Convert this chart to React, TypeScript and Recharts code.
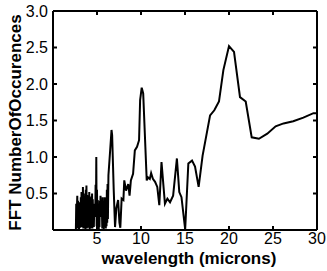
import { LineChart, Line, XAxis, YAxis } from 'recharts';

// wavelength in microns, dense noisy band first, then the smoother tail
const wavelengths = [
  2.6, 2.64, 2.68, 2.72, 2.76, 2.8, 2.84, 2.88, 2.92, 2.96,
  3.0, 3.04, 3.08, 3.12, 3.16, 3.2, 3.24, 3.28, 3.32, 3.36,
  3.4, 3.44, 3.48, 3.52, 3.56, 3.6, 3.64, 3.68, 3.72, 3.76,
  3.8, 3.84, 3.88, 3.92, 3.96, 4.0, 4.04, 4.08, 4.12, 4.16,
  4.2, 4.24, 4.28, 4.32, 4.36, 4.4, 4.44, 4.48, 4.52, 4.56,
  4.6, 4.64, 4.68, 4.72, 4.76, 4.8, 4.84, 4.88, 4.92, 4.96,
  5.0, 5.04, 5.08, 5.12, 5.16, 5.2, 5.24, 5.28, 5.32, 5.36,
  5.4, 5.44, 5.48, 5.52, 5.56, 5.6, 5.64, 5.68, 5.72, 5.76,
  5.8, 5.84, 5.88, 5.92, 5.96, 6.0, 6.04, 6.08, 6.12, 6.16,
  6.2, 6.24, 6.3, 6.5, 6.65, 6.72, 6.9, 7.05, 7.2, 7.4,
  7.55, 7.65, 7.8, 8.0, 8.1, 8.3, 8.55, 8.7, 8.85, 9.1,
  9.3, 9.55, 9.78, 9.9, 10.08, 10.25, 10.65, 10.8, 11.0, 11.15,
  11.35, 11.6, 11.85, 12.08, 12.33, 12.72, 13.0, 13.3, 13.65, 14.08,
  14.35, 14.6, 15.02, 15.38, 15.8, 16.14, 16.55, 17.0, 17.85, 18.33,
  18.86, 19.36, 20.0, 20.57, 21.25, 21.9, 22.58, 23.4, 24.35, 25.3,
  26.2, 27.3, 28.45, 29.6, 30.0,
];

const occurrences = [
  0.0, 0.36, 0.05, 0.3, 0.47, 0.02, 0.4, 0.06, 0.33, 0.0,
  0.38, 0.04, 0.36, 0.03, 0.45, 0.05, 0.52, 0.04, 0.44, 0.08,
  0.59, 0.02, 0.5, 0.06, 0.45, 0.03, 0.42, 0.0, 0.55, 0.05,
  0.61, 0.02, 0.48, 0.07, 0.4, 0.03, 0.47, 0.04, 0.52, 0.0,
  0.44, 0.06, 0.38, 0.02, 0.46, 0.05, 0.5, 0.02, 0.42, 0.08,
  0.36, 0.04, 0.27, 0.18, 0.24, 0.19, 0.62, 0.2, 1.0, 0.05,
  0.55, 0.03, 0.41, 0.06, 0.35, 0.0, 0.31, 0.04, 0.4, 0.2,
  0.47, 0.18, 0.3, 0.22, 0.27, 0.02, 0.45, 0.05, 0.38, 0.0,
  0.33, 0.04, 0.45, 0.07, 0.25, 0.02, 0.4, 0.05, 0.55, 0.1,
  0.63, 0.15, 0.75, 1.1, 1.37, 1.3, 0.55, 0.04, 0.3, 0.41,
  0.1, 0.03, 0.43, 0.41, 0.68, 0.54, 0.63, 0.47, 0.68, 0.77,
  1.09, 1.14, 1.23, 1.78, 1.95, 1.87, 0.68, 0.72, 0.7, 0.78,
  0.7, 0.66, 0.59, 0.34, 0.93, 0.36, 0.43, 0.38, 0.47, 0.98,
  0.52, 0.45, 0.01, 0.91, 0.95, 0.87, 0.59, 1.02, 1.57, 1.64,
  1.76, 2.19, 2.52, 2.44, 1.82, 1.76, 1.27, 1.25, 1.32, 1.42,
  1.46, 1.49, 1.54, 1.6, 1.6,
];

const xTicks = [5, 10, 15, 20, 25, 30];
const topTicks = [5, 10, 15, 20, 25];
const yTicks = [0.5, 1.0, 1.5, 2.0, 2.5, 3.0];
const rightTicks = [0.5, 1.0, 1.5, 2.0, 2.5];

const data = wavelengths.map((w, i) => ({ x: w, y: occurrences[i] }));

const font = '"Liberation Sans", Arial, sans-serif';

const YTitle = ({ viewBox }: any) => {
  const cx = 15;
  const cy = viewBox.y + viewBox.height / 2 + 2;
  return (
    <text x={cx} y={cy} transform={`rotate(-90 ${cx} ${cy})`} textAnchor="middle"
      dominantBaseline="central" fontFamily={font} fontWeight="bold" fontSize={17} fill="#000">
      FFT NumberOfOccurences
    </text>
  );
};

const XTitle = ({ viewBox }: any) => (
  <text x={viewBox.x + viewBox.width / 2 + 4} y={264} textAnchor="middle"
    fontFamily={font} fontWeight="bold" fontSize={17} fill="#000">
    wavelength (microns)
  </text>
);

export default function App() {
  const axisLine = { stroke: '#000', strokeWidth: 2 };
  const tickLine = { stroke: '#000', strokeWidth: 2 };
  const tickStyle = { fill: '#000', fontSize: 16, fontFamily: font };
  return (
    <div style={{ position: 'absolute', left: 0, top: 0, background: '#fff' }}>
      <LineChart width={327} height={271} data={data} margin={{ top: 10, right: 9, bottom: 0, left: 0 }}>
        <XAxis dataKey="x" type="number" domain={[0, 30]} ticks={xTicks} height={41}
          axisLine={axisLine} tickLine={tickLine} tickSize={-4} tickMargin={7} tick={tickStyle}
          label={{ content: XTitle }} />
        <XAxis xAxisId="top" dataKey="x" orientation="top" type="number" domain={[0, 30]} ticks={topTicks}
          allowDataOverflow height={1} axisLine={axisLine} tickLine={tickLine} tickSize={-4}
          tickFormatter={() => ''} />
        <YAxis type="number" domain={[0, 3]} ticks={yTicks} width={53}
          axisLine={axisLine} tickLine={tickLine} tickSize={-4} tickMargin={9} tick={tickStyle}
          tickFormatter={(v: number) => v.toFixed(1)} label={{ content: YTitle }} />
        <YAxis yAxisId="right" dataKey="y" orientation="right" type="number" domain={[0, 3]} ticks={rightTicks}
          allowDataOverflow width={1} axisLine={axisLine} tickLine={tickLine} tickSize={-4}
          tickFormatter={() => ''} />
        <Line dataKey="y" type="linear" stroke="#000" strokeWidth={2} dot={false} isAnimationActive={false} />
      </LineChart>
    </div>
  );
}
